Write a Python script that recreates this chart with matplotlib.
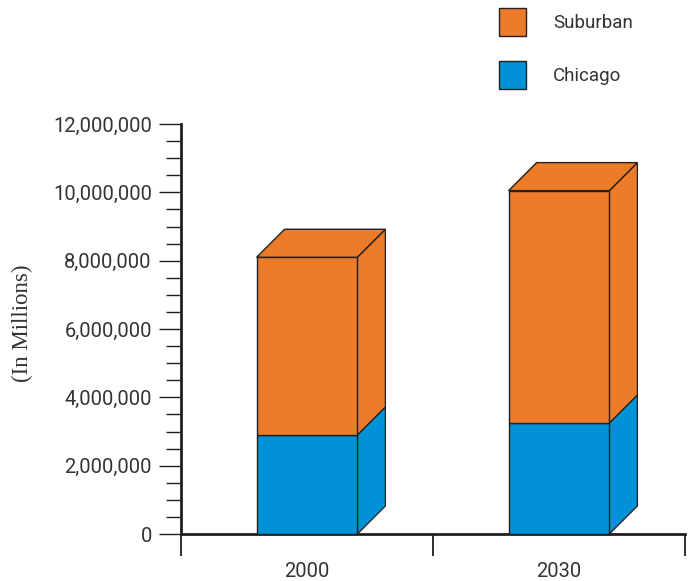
import matplotlib
matplotlib.use("Agg")
import matplotlib.pyplot as plt
from matplotlib.patches import Polygon, Rectangle
from matplotlib.ticker import MultipleLocator, FuncFormatter

years = ["2000", "2030"]
chicago = [2_900_000, 3_250_000]
suburban = [5_200_000, 6_800_000]
series_names = ["Suburban", "Chicago"]

ORANGE = "#EC7C2A"
BLUE = "#0091D6"
EDGE = "#231F20"
TEXT = "#333333"
SANS = ["Liberation Sans Narrow", "Roboto", "DejaVu Sans"]
SERIF = ["Liberation Serif", "DejaVu Serif"]

W, H, DPI = 694, 581, 100
fig = plt.figure(figsize=(W / DPI, H / DPI), dpi=DPI)
ax = fig.add_axes([181 / W, (581 - 534) / H, (685 - 181) / W, (534 - 124) / H])
ax.set_xlim(-0.5, 1.5)
ax.set_ylim(0, 12_000_000)

# convert a pixel depth into data units along each axis
ax_w_px = (685 - 181)
ax_h_px = (534 - 124)
depth_px = 28
ddx = depth_px * 2.0 / ax_w_px
ddy = depth_px * 12_000_000 / ax_h_px
bar_w = 0.4


def box(x0, y0, y1, color, z):
    x1 = x0 + bar_w
    front = Rectangle((x0, y0), bar_w, y1 - y0, facecolor=color, edgecolor=EDGE,
                      linewidth=1.0, zorder=z, clip_on=False)
    side = Polygon([(x1, y0), (x1, y1), (x1 + ddx, y1 + ddy), (x1 + ddx, y0 + ddy)],
                   closed=True, facecolor=color, edgecolor=EDGE, linewidth=0.9,
                   zorder=z - 0.5, clip_on=False)
    ax.add_patch(side)
    ax.add_patch(front)
    return x1


for i, yr in enumerate(years):
    x0 = i - bar_w / 2
    c = chicago[i]
    t = chicago[i] + suburban[i]
    x1 = box(x0, 0, c, BLUE, 3)
    box(x0, c, t, ORANGE, 4)
    top = Polygon([(x0, t), (x1, t), (x1 + ddx, t + ddy), (x0 + ddx, t + ddy)],
                  closed=True, facecolor=ORANGE, edgecolor=EDGE, linewidth=1.0,
                  zorder=5, clip_on=False)
    ax.add_patch(top)

# axes styling
for s in ("top", "right"):
    ax.spines[s].set_visible(False)
ax.spines["left"].set_linewidth(2.0)
ax.spines["bottom"].set_linewidth(2.0)
ax.spines["left"].set_color(EDGE)
ax.spines["bottom"].set_color(EDGE)

ax.yaxis.set_major_locator(MultipleLocator(2_000_000))
ax.yaxis.set_minor_locator(MultipleLocator(500_000))
ax.yaxis.set_major_formatter(FuncFormatter(lambda v, p: f"{int(v):,}"))
ax.tick_params(axis="y", which="major", length=16, width=1.0, color=EDGE,
               labelsize=14.5, labelcolor=TEXT, pad=5)
ax.tick_params(axis="y", which="minor", length=11, width=1.0, color=EDGE)

ax.set_xticks([0, 1])
ax.set_xticklabels(years)
ax.set_xticks([-0.5, 0.5, 1.5], minor=True)
ax.tick_params(axis="x", which="major", length=0, labelsize=14.5,
               labelcolor=TEXT, pad=20)
ax.tick_params(axis="x", which="minor", length=16, width=1.3, color=EDGE)

for lab in ax.get_xticklabels() + ax.get_yticklabels():
    lab.set_family(SANS)

fig.text(22 / W, 1 - 323 / H, "(In Millions)", rotation=90, ha="center",
         va="center", fontsize=16.5, family=SERIF, color=TEXT)

# legend
for k, (name, col) in enumerate(zip(series_names, [ORANGE, BLUE])):
    ytop = 8 + k * 53
    fig.patches.append(Rectangle((499 / W, 1 - (ytop + 28) / H), 27 / W, 28 / H,
                                 transform=fig.transFigure, facecolor=col,
                                 edgecolor=EDGE, linewidth=1.0))
    fig.text(553 / W, 1 - (ytop + 15) / H, name, ha="left", va="center",
             fontsize=13.5, family=SANS, color=TEXT)

fig.savefig("out.png", dpi=DPI)
